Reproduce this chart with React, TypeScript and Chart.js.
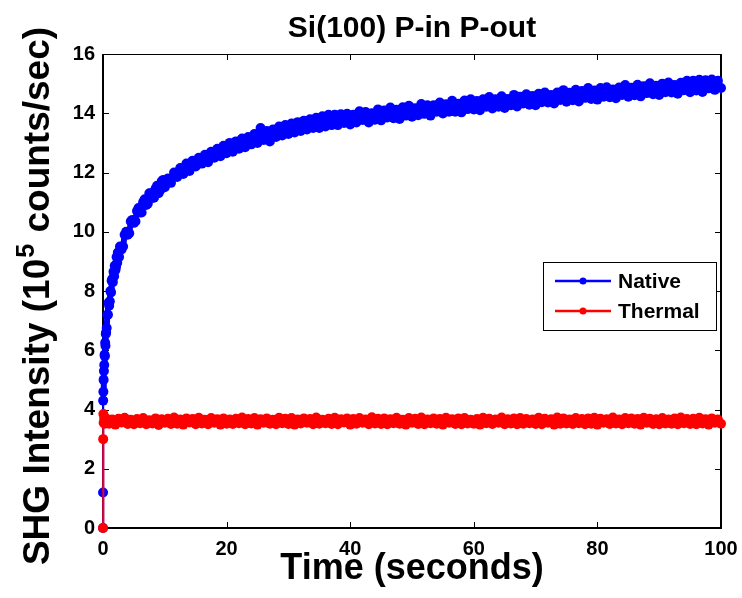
import React, { useEffect, useRef } from "react";
import { Chart, registerables } from "chart.js";

Chart.register(...registerables);

const TITLE = "Si(100) P-in P-out";
const X_TITLE = "Time (seconds)";
const Y_TITLE_PRE = "SHG Intensity (10";
const Y_TITLE_SUP = "5";
const Y_TITLE_POST = " counts/sec)";
const SERIES_NAMES = ["Native", "Thermal"];
const SERIES_COLORS = ["#0000ff", "#ff0000"];

const X_MIN = 0;
const X_MAX = 100;
const X_STEP = 20;
const Y_MIN = 0;
const Y_MAX = 16;
const Y_STEP = 2;

// regular sampling grid after the first instants
const SAMPLE_STEP = 0.5;

// first instants (seconds) and values, read where the rise is steep
const nativeEarlyTime = [
  0, 0.01, 0.03, 0.06, 0.1, 0.15, 0.2, 0.25, 0.3, 0.35, 0.4, 0.45,
  0.6, 0.7, 0.8, 0.9, 1.1, 1.2, 1.3, 1.4, 1.6, 1.7, 1.8, 1.9,
  2.1, 2.2, 2.3, 2.4, 2.6, 2.75, 3.25, 3.75, 4.25, 4.75, 5.25, 5.75,
  6.25, 6.75, 7.25, 7.75, 8.25, 8.75, 9.25, 9.75,
];
const nativeEarly = [
  0, 1.2, 4.3, 4.6, 5.0, 5.3, 5.5, 5.85, 5.8, 6.25, 6.15, 6.55,
  6.75, 7.2, 7.2, 7.6, 7.65, 8.0, 7.95, 8.35, 8.3, 8.65, 8.5, 8.85,
  8.8, 9.15, 8.95, 9.3, 9.15, 9.5, 9.5, 10.0, 9.95, 10.4, 10.35, 10.8,
  10.65, 11.1, 10.95, 11.3, 11.15, 11.55, 11.4, 11.75,
];
const thermalEarlyTime = [0, 0.03, 0.06, 0.1, 0.2, 0.3];
const thermalEarly = [0, 3.0, 3.85, 3.55, 3.7, 3.52];

// values at t = 0.5, 1.0, ... 100 s
const nativeValues = [
  6.6, 7.5, 8.4, 8.7, 9.3, 9.4, 9.9, 9.9, 10.35, 10.3,
  10.7, 10.65, 11.0, 10.9, 11.3, 11.15, 11.45, 11.3, 11.7, 11.5,
  11.8, 11.65, 12.0, 11.85, 12.15, 11.95, 12.3, 12.05, 12.4, 12.2,
  12.5, 12.3, 12.6, 12.35, 12.7, 12.5, 12.8, 12.55, 12.9, 12.65,
  13.0, 12.7, 13.05, 12.8, 13.15, 12.85, 13.2, 12.95, 13.3, 13.0,
  13.5, 13.1, 13.4, 13.05, 13.45, 13.2, 13.55, 13.25, 13.6, 13.3,
  13.65, 13.35, 13.7, 13.4, 13.75, 13.45, 13.8, 13.5, 13.85, 13.5,
  13.9, 13.55, 13.95, 13.6, 13.95,
  13.6, 13.97, 13.67, 13.98, 13.62,
  13.95, 13.69, 14.07, 13.77, 14.04, 13.69, 14.0, 13.78, 14.13, 13.76,
  14.09, 13.86, 14.19, 13.83, 14.12, 13.81, 14.2, 13.92, 14.25, 13.88,
  14.17, 13.93, 14.31, 13.98, 14.27, 13.92, 14.27, 14.05, 14.36, 13.99,
  14.3, 14.05, 14.42, 14.05, 14.32, 14.03, 14.43, 14.14, 14.47, 14.13,
  14.41, 14.1, 14.47, 14.22, 14.55, 14.16, 14.47, 14.22, 14.57, 14.18,
  14.48, 14.27, 14.62, 14.23, 14.56, 14.33, 14.64, 14.29, 14.58, 14.27,
  14.66, 14.37, 14.7, 14.36, 14.62, 14.33, 14.7, 14.45, 14.78, 14.39,
  14.69, 14.44, 14.79, 14.4, 14.75, 14.52, 14.85, 14.48, 14.77, 14.46,
  14.85, 14.56, 14.88, 14.54, 14.8, 14.51, 14.87, 14.62, 14.95, 14.56,
  14.86, 14.61, 14.96, 14.57, 14.91, 14.68, 15.01, 14.64, 14.93, 14.62,
  15.0, 14.71, 15.04, 14.7, 14.95, 14.66, 15.03, 14.78, 15.1, 14.71,
  15.1, 14.77, 15.13, 14.72, 15.11, 14.84, 15.14, 14.79, 15.1, 14.85,
];

const thermalValues = [
  3.7, 3.52, 3.66, 3.49, 3.69, 3.56, 3.72, 3.51, 3.65, 3.5,
  3.68, 3.54, 3.71, 3.5, 3.64, 3.53, 3.7, 3.48, 3.67, 3.55,
  3.69, 3.51, 3.73, 3.52, 3.66, 3.49, 3.7, 3.56, 3.68, 3.5,
  3.72, 3.53, 3.65, 3.5, 3.71, 3.55, 3.67, 3.49, 3.7, 3.52,
  3.66, 3.51, 3.69, 3.54, 3.73, 3.5, 3.68, 3.53, 3.71, 3.49,
  3.67, 3.55, 3.7, 3.52, 3.65, 3.5, 3.72, 3.54, 3.69, 3.51,
  3.71, 3.49, 3.66, 3.53, 3.7, 3.55, 3.68, 3.5, 3.73, 3.52,
  3.65, 3.54, 3.69, 3.51, 3.72, 3.5, 3.67, 3.56, 3.7, 3.49,
  3.68, 3.52, 3.71, 3.55, 3.66, 3.5, 3.74, 3.53, 3.69, 3.51,
  3.7, 3.5, 3.67, 3.54, 3.72, 3.52, 3.65, 3.49, 3.71, 3.55,
  3.69, 3.51, 3.73, 3.5, 3.66, 3.54, 3.7, 3.52, 3.68, 3.49,
  3.72, 3.55, 3.67, 3.51, 3.7, 3.5, 3.71, 3.53, 3.65, 3.52,
  3.68, 3.49, 3.72, 3.54, 3.69, 3.51, 3.66, 3.55, 3.73, 3.5,
  3.67, 3.53, 3.7, 3.5, 3.71, 3.52, 3.68, 3.54, 3.66, 3.51,
  3.72, 3.5, 3.69, 3.55, 3.67, 3.49, 3.73, 3.52, 3.7, 3.53,
  3.66, 3.51, 3.71, 3.54, 3.68, 3.5, 3.7, 3.52, 3.72, 3.49,
  3.69, 3.55, 3.67, 3.51, 3.73, 3.53, 3.66, 3.5, 3.71, 3.54,
  3.7, 3.52, 3.68, 3.49, 3.72, 3.55, 3.69, 3.51, 3.67, 3.5,
  3.71, 3.53, 3.66, 3.52, 3.7, 3.5, 3.73, 3.54, 3.68, 3.51,
  3.69, 3.5, 3.72, 3.53, 3.67, 3.49, 3.7, 3.55, 3.66, 3.52,
];

const FONT = '"Liberation Sans", Arial, Helvetica, sans-serif';

function buildPoints(earlyT: number[], earlyV: number[], values: number[]) {
  const pts = earlyT.map((t, i) => ({ x: t, y: earlyV[i] }));
  values.forEach((v, i) => pts.push({ x: (i + 1) * SAMPLE_STEP, y: v }));
  return pts
    .map((p, i) => ({ p, i }))
    .sort((a, b) => a.p.x - b.p.x || a.i - b.i)
    .map((o) => o.p);
}

const decorPlugin = {
  id: "decor",
  beforeDatasetsDraw(chart: any) {
    const { ctx, chartArea } = chart;
    const { left, right, top, bottom } = chartArea;
    const xs = chart.scales.x;
    const ys = chart.scales.y;
    ctx.save();
    ctx.strokeStyle = "#000";
    ctx.lineWidth = 1.2;
    ctx.beginPath();
    ctx.moveTo(left, top + 0.5);
    ctx.lineTo(right, top + 0.5);
    ctx.stroke();
    ctx.lineWidth = 2;
    ctx.beginPath();
    ctx.moveTo(left, top);
    ctx.lineTo(left, bottom);
    ctx.lineTo(right, bottom);
    ctx.lineTo(right, top);
    ctx.stroke();
    ctx.lineWidth = 1;
    const tl = 6;
    for (let v = X_MIN; v <= X_MAX; v += X_STEP) {
      const px = Math.round(xs.getPixelForValue(v)) + 0.5;
      ctx.beginPath();
      ctx.moveTo(px, bottom);
      ctx.lineTo(px, bottom - tl);
      ctx.moveTo(px, top);
      ctx.lineTo(px, top + tl);
      ctx.stroke();
    }
    for (let v = Y_MIN; v <= Y_MAX; v += Y_STEP) {
      const py = Math.round(ys.getPixelForValue(v)) + 0.5;
      ctx.beginPath();
      ctx.moveTo(left, py);
      ctx.lineTo(left + tl, py);
      ctx.moveTo(right, py);
      ctx.lineTo(right - tl, py);
      ctx.stroke();
    }
    ctx.restore();
  },
  afterDraw(chart: any) {
    const { ctx, chartArea } = chart;
    const { left, right } = chartArea;
    const cx = (left + right) / 2;
    ctx.save();
    ctx.fillStyle = "#000";
    ctx.font = `bold 30px ${FONT}`;
    ctx.textAlign = "center";
    ctx.textBaseline = "alphabetic";
    ctx.fillText(TITLE, cx, 37);
    ctx.font = `bold 36px ${FONT}`;
    ctx.fillText(X_TITLE, cx, 579);
    const mainFont = `bold 37px ${FONT}`;
    const supFont = `bold 25px ${FONT}`;
    ctx.font = mainFont;
    const w1 = ctx.measureText(Y_TITLE_PRE).width;
    const w3 = ctx.measureText(Y_TITLE_POST).width;
    ctx.font = supFont;
    const w2 = ctx.measureText(Y_TITLE_SUP).width + 2;
    const total = w1 + w2 + w3;
    ctx.translate(49, 296);
    ctx.rotate(-Math.PI / 2);
    ctx.textAlign = "left";
    const x0 = -total / 2;
    ctx.font = mainFont;
    ctx.fillText(Y_TITLE_PRE, x0, 0);
    ctx.font = supFont;
    ctx.fillText(Y_TITLE_SUP, x0 + w1 + 1, -15);
    ctx.font = mainFont;
    ctx.fillText(Y_TITLE_POST, x0 + w1 + w2, 0);
    ctx.restore();

    ctx.save();
    const bx = 543, by = 262, bw = 173, bh = 68;
    ctx.fillStyle = "#fff";
    ctx.fillRect(bx, by, bw, bh);
    ctx.strokeStyle = "#000";
    ctx.lineWidth = 1;
    ctx.strokeRect(bx + 0.5, by + 0.5, bw, bh);
    chart.data.datasets.forEach((ds: any, i: number) => {
      const ry = by + 19 + i * 30;
      ctx.strokeStyle = ds.borderColor;
      ctx.lineWidth = 2.5;
      ctx.beginPath();
      ctx.moveTo(555, ry);
      ctx.lineTo(611, ry);
      ctx.stroke();
      ctx.fillStyle = ds.borderColor;
      ctx.beginPath();
      ctx.arc(583, ry, 3.5, 0, Math.PI * 2);
      ctx.fill();
      ctx.fillStyle = "#000";
      ctx.font = `bold 21px ${FONT}`;
      ctx.textAlign = "left";
      ctx.textBaseline = "middle";
      ctx.fillText(ds.label, 618, ry + 1);
    });
    ctx.restore();
  },
};

// thin line for the jump at t = 0, thick band afterwards
const segWidth = (c: any) => (c.p1.parsed.x <= 0.06 ? 2 : 6);

export default function App() {
  const canvasRef = useRef<HTMLCanvasElement | null>(null);

  useEffect(() => {
    const canvas = canvasRef.current;
    if (!canvas) return;
    const nativePts = buildPoints(nativeEarlyTime, nativeEarly, nativeValues);
    const thermalPts = buildPoints(thermalEarlyTime, thermalEarly, thermalValues);
    const common = {
      borderWidth: 6,
      pointRadius: 5,
      pointBorderWidth: 0,
      pointHoverRadius: 5,
      tension: 0,
      clip: false,
      borderJoinStyle: "round",
      borderCapStyle: "round",
      segment: { borderWidth: segWidth },
    };
    const chart = new Chart(canvas, {
      type: "line",
      data: {
        datasets: [
          {
            label: SERIES_NAMES[0],
            data: nativePts,
            borderColor: SERIES_COLORS[0],
            backgroundColor: SERIES_COLORS[0],
            order: 2,
            ...common,
          } as any,
          {
            label: SERIES_NAMES[1],
            data: thermalPts,
            borderColor: SERIES_COLORS[1],
            backgroundColor: SERIES_COLORS[1],
            order: 1,
            ...common,
          } as any,
        ],
      },
      options: {
        responsive: false,
        animation: false,
        events: [],
        layout: { padding: { left: 0, top: 54, right: 21, bottom: 0 } },
        plugins: {
          legend: { display: false },
          title: { display: false },
          tooltip: { enabled: false },
        },
        scales: {
          x: {
            type: "linear",
            min: X_MIN,
            max: X_MAX,
            grid: { display: false },
            border: { display: false },
            ticks: {
              stepSize: X_STEP,
              color: "#000",
              padding: 1,
              maxRotation: 0,
              font: { family: FONT, size: 20, weight: "bold" },
            },
            afterFit(scale: any) {
              scale.height = 70;
              scale.paddingLeft = 0;
              scale.paddingRight = 0;
            },
          },
          y: {
            type: "linear",
            min: Y_MIN,
            max: Y_MAX,
            grid: { display: false },
            border: { display: false },
            ticks: {
              stepSize: Y_STEP,
              color: "#000",
              padding: 0,
              font: { family: FONT, size: 20, weight: "bold" },
            },
            afterFit(scale: any) {
              scale.width = 103;
              scale.paddingTop = 0;
              scale.paddingBottom = 0;
            },
          },
        },
      } as any,
      plugins: [decorPlugin],
    });
    return () => chart.destroy();
  }, []);

  return (
    <div style={{ position: "fixed", left: 0, top: 0, width: 742, height: 598, background: "#fff" }}>
      <canvas ref={canvasRef} width={742} height={598} style={{ width: 742, height: 598 }} />
    </div>
  );
}
